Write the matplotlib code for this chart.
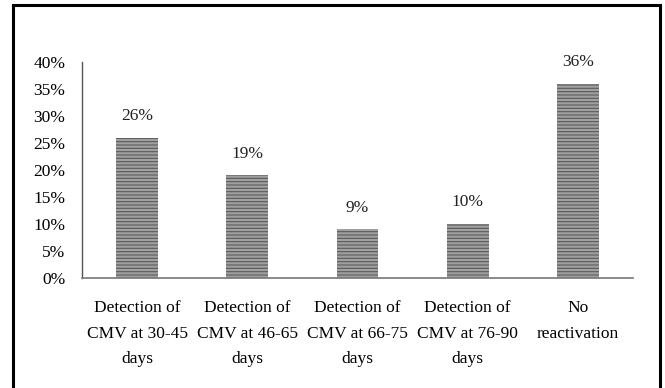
import matplotlib
matplotlib.use("Agg")
import matplotlib.pyplot as plt
from matplotlib.patches import Rectangle

categories = ["Detection of\nCMV at 30-45\ndays", "Detection of\nCMV at 46-65\ndays",
              "Detection of\nCMV at 66-75\ndays", "Detection of\nCMV at 76-90\ndays",
              "No\nreactivation"]
values = [26, 19, 9, 10, 36]
yticks = [0, 5, 10, 15, 20, 25, 30, 35, 40]
ytick_labels = ["0%", "5%", "10%", "15%", "20%", "25%", "30%", "35%", "40%"]

plt.rcParams['font.family'] = ['Liberation Serif', 'DejaVu Serif']
plt.rcParams['hatch.linewidth'] = 0.8

fig = plt.figure(figsize=(6.65, 3.88), dpi=100)
ax = fig.add_axes([82/665, 1-278/388, (633-82)/665, (278-62)/388])

x = list(range(len(categories)))
bars = ax.bar(x, values, width=0.38, color='#a0a0a0', edgecolor='#5a5a5a',
              hatch='-----', linewidth=0)
for xi, v in zip(x, values):
    ax.annotate(f"{v}%", (xi, v), xytext=(0, 10), textcoords='offset points',
                ha='center', va='bottom', fontsize=12.5, color='#222222')

ax.set_xlim(-0.5, len(categories)-0.5)
ax.set_ylim(0, 40)
ax.set_yticks(yticks)
ax.set_yticklabels(ytick_labels, fontsize=12.5)
ax.set_xticks(x)
ax.set_xticklabels(categories, fontsize=12.5, linespacing=1.8)
ax.tick_params(axis='y', length=0, pad=12)
ax.tick_params(axis='x', length=0, pad=16)
for s in ['top', 'right']:
    ax.spines[s].set_visible(False)
ax.spines['left'].set_color('#555555')
ax.spines['bottom'].set_color('#777777')
ax.spines['left'].set_linewidth(1.0)
ax.spines['bottom'].set_linewidth(1.2)

fig.patches.append(Rectangle((13/665, -0.05), (660-13)/665, 1.05 - 5/388,
                             transform=fig.transFigure, fill=False,
                             edgecolor='black', linewidth=2.2, figure=fig))

fig.savefig("out.png", dpi=100)
